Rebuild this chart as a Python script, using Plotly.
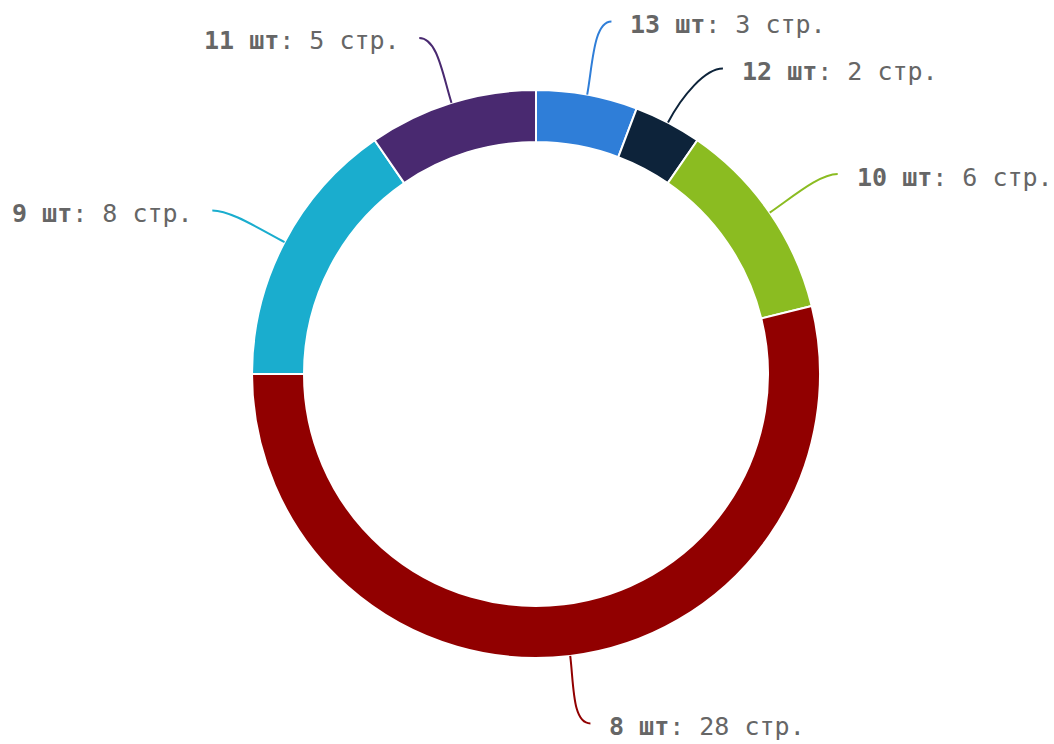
import math
import plotly.graph_objects as go

# Data
categories = ["13 шт", "12 шт", "10 шт", "8 шт", "9 шт", "11 шт"]
values = [3, 2, 6, 28, 8, 5]
colors = ["#2f7ed8", "#0d233a", "#8bbc21", "#910000", "#1aadce", "#492970"]

W, H = 1054, 744
CX, CY, R = 536, 374, 284
HOLE = 232 / 284
LABEL_R = 352
MIN_GAP = 47

fig = go.Figure(go.Pie(
    labels=categories, values=values, sort=False, direction="clockwise", rotation=0,
    hole=HOLE, marker=dict(colors=colors, line=dict(color="white", width=2)),
    textinfo="none", hoverinfo="skip", showlegend=False,
    domain=dict(x=[(CX - R) / W, (CX + R) / W], y=[(H - CY - R) / H, (H - CY + R) / H]),
))

def px(x):
    return x / W

def py(y):
    return 1 - y / H

total = sum(values)
cum = 0
items = []
for cat, v, col in zip(categories, values, colors):
    mid = (cum + v / 2) / total * 2 * math.pi
    cum += v
    s, c = math.sin(mid), math.cos(mid)
    sign = 1 if s >= 0 else -1
    ey = CY - LABEL_R * c
    items.append(dict(cat=cat, v=v, col=col, s=s, c=c, sign=sign, ey=ey))

# simple collision avoidance per side: spread overlapping neighbours evenly
for side in (1, -1):
    grp = sorted([it for it in items if it["sign"] == side], key=lambda d: d["ey"])
    for i in range(1, len(grp)):
        a, b = grp[i - 1], grp[i]
        if b["ey"] - a["ey"] < MIN_GAP:
            m = (a["ey"] + b["ey"]) / 2
            a["ey"], b["ey"] = m - MIN_GAP / 2, m + MIN_GAP / 2

shapes = []
annotations = []
for it in items:
    s, c, sign = it["s"], it["c"], it["sign"]
    x0, y0 = CX + R * s, CY - R * c
    ey = it["ey"]
    dx = LABEL_R * abs(s)
    dy = ey - CY
    if abs(dy) < LABEL_R:
        dx = max(dx, math.sqrt(LABEL_R ** 2 - dy ** 2))
    ex = CX + sign * (dx + 12)
    c1x, c1y = x0 + s * 30, y0 - c * 30
    c2x, c2y = ex - sign * 18, ey
    path = (f"M {px(x0):.5f},{py(y0):.5f} C {px(c1x):.5f},{py(c1y):.5f} "
            f"{px(c2x):.5f},{py(c2y):.5f} {px(ex):.5f},{py(ey):.5f}")
    shapes.append(dict(type="path", path=path, xref="paper", yref="paper",
                       line=dict(color=it["col"], width=2)))
    annotations.append(dict(
        x=px(ex + sign * 17), y=py(ey + 3), xref="paper", yref="paper",
        xanchor="left" if sign > 0 else "right", yanchor="middle",
        text=f"<b>{it['cat']}</b>: {it['v']} стр.", showarrow=False,
        font=dict(family="DejaVu Sans Mono", size=25, color="#666666"),
    ))

fig.update_layout(
    width=W, height=H, margin=dict(l=0, r=0, t=0, b=0),
    paper_bgcolor="white", plot_bgcolor="white",
    shapes=shapes, annotations=annotations,
)
fig.write_html("out.html", config={"displayModeBar": False},
               post_script="document.body.style.margin='0';")
